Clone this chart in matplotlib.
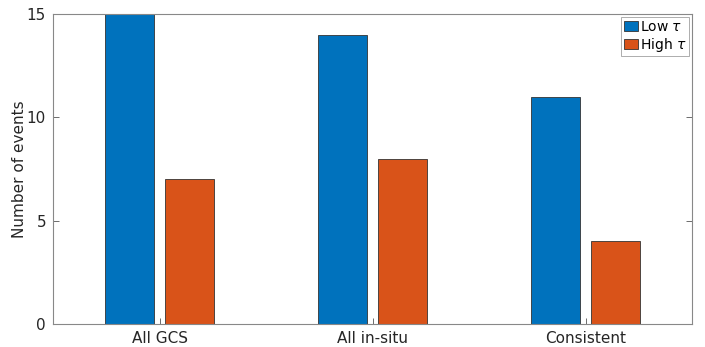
import numpy as np
import matplotlib.pyplot as plt

categories = ['All GCS', 'All in-situ', 'Consistent']
low_tau = [15, 14, 11]
high_tau = [7, 8, 4]

plt.rcParams['font.family'] = ['DejaVu Sans']

fig = plt.figure(figsize=(7.05, 3.47), dpi=100)
ax = fig.add_axes([53 / 705, 1 - 324 / 347, 639 / 705, 310 / 347])

x = np.arange(1, len(categories) + 1)
w = 0.23
off = 0.143
ax.bar(x - off, low_tau, w, color='#0072BD', edgecolor='#333333', linewidth=0.6,
       label=r'Low $\tau$')
ax.bar(x + off, high_tau, w, color='#D95319', edgecolor='#333333', linewidth=0.6,
       label=r'High $\tau$')

ax.set_xlim(0.5, 3.5)
ax.set_ylim(0, 15)
ax.set_xticks(x)
ax.set_xticklabels(categories)
ax.set_yticks([0, 5, 10, 15])
ax.tick_params(direction='in', length=4, width=0.6, color='#555555',
               labelsize=11, labelcolor='#262626', right=True, top=False, pad=5)
ax.set_ylabel('Number of events', fontsize=11, color='#262626')
ax.yaxis.set_label_coords(-0.041, 0.5)
for s in ax.spines.values():
    s.set_color('#888888')
    s.set_linewidth(0.8)

leg = ax.legend(loc='upper right', fontsize=10, frameon=True, fancybox=False,
                borderpad=0.2, labelspacing=0.15, handlelength=1.0, handleheight=0.75,
                handletextpad=0.12, borderaxespad=0.2)
leg.get_frame().set_edgecolor('#888888')
leg.get_frame().set_linewidth(0.6)

fig.savefig('out.png', dpi=100)
